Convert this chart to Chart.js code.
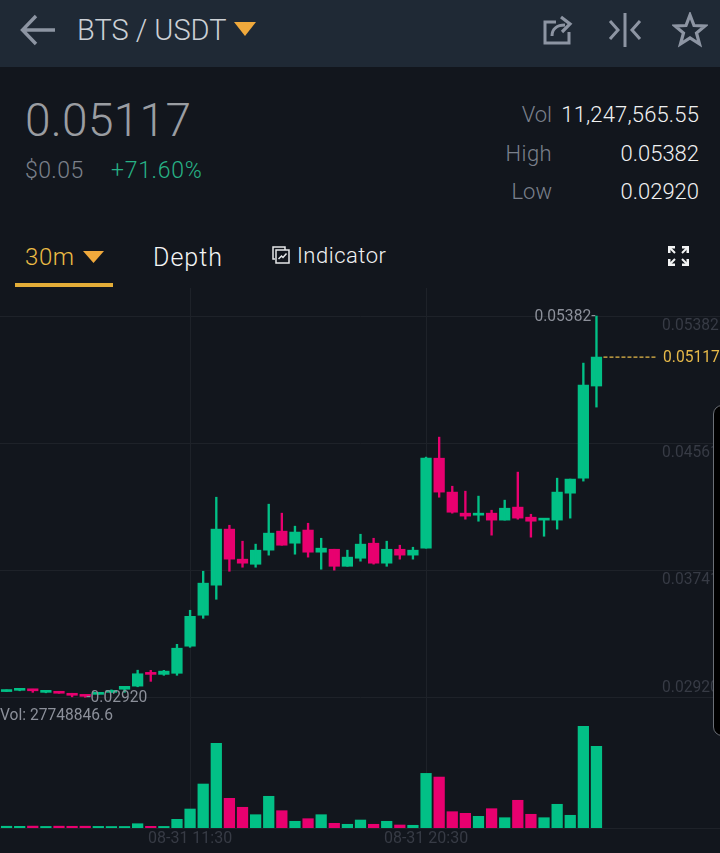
<!DOCTYPE html>
<html>
<head>
<meta charset="utf-8">
<script src="https://cdn.jsdelivr.net/npm/chart.js@4"></script>
<style>
  html, body { margin: 0; padding: 0; background: #12161d; }
  body { position: relative; width: 720px; height: 853px; overflow: hidden; font-family: Roboto, sans-serif; }
  .t { position: absolute; white-space: nowrap; line-height: 1; }
  .r { text-align: right; }
  svg { position: absolute; }
  #topbar { position: absolute; left: 0; top: 0; width: 720px; height: 67px; background: #1f2935; }
  #tabline { position: absolute; left: 15px; top: 283px; width: 98px; height: 4px; background: #e3ad38; }
  #chart1 { position: absolute; left: -1px; top: 288px; }
  #sidetab { position: absolute; left: 713px; top: 405px; width: 20px; height: 329px; background: #000; border: 1px solid #6b6f76; border-radius: 9px; }
</style>
</head>
<body>
<div id="topbar"></div>
<svg style="left:20px;top:14px" width="36" height="32" viewBox="0 0 36 32" fill="none" stroke="#8d95a3" stroke-width="3.4">
  <path d="M35 16H3M16 2L2.5 16L16 30"/>
</svg>
<div class="t" style="left:77px;top:16px;font-size:29px;font-weight:300;color:#ccd0d5">BTS / USDT</div>
<svg style="left:234px;top:22px" width="22" height="14"><path d="M0 0H22L11 14Z" fill="#f0a93c"/></svg>
<svg style="left:542px;top:14px" width="32" height="32" viewBox="0 0 32 32" fill="none" stroke="#8d95a3" stroke-width="3">
  <path d="M14 8H3V29H27V18"/><path d="M10 22C10 15 15 11 23 11"/><path d="M19 3L28 10L20 18" stroke-width="3.2"/>
</svg>
<svg style="left:607px;top:12px" width="36" height="36" viewBox="0 0 36 36" fill="none" stroke="#8d95a3" stroke-width="3">
  <path d="M18 1V35"/><path d="M3 9L11 18L3 27M33 9L25 18L33 27"/>
</svg>
<svg style="left:672px;top:12px" width="36" height="36" viewBox="0 0 36 36" fill="none" stroke="#8d95a3" stroke-width="3.2">
  <path d="M18 3L22 13.5L33 14L24.5 21L27.5 32L18 26L8.5 32L11.5 21L3 14L14 13.5Z"/>
</svg>

<div class="t" style="left:25px;top:97px;font-size:46px;font-weight:300;letter-spacing:.3px;color:#9a9da2">0.05117</div>
<div class="t" style="left:25px;top:159px;font-size:23px;font-weight:300;letter-spacing:.4px;color:#7b818b">$0.05</div>
<div class="t" style="left:111px;top:159px;font-size:23px;font-weight:300;letter-spacing:.7px;color:#27b286">+71.60%</div>

<div class="t r" style="right:168px;top:104px;font-size:22px;font-weight:300;color:#7a808c">Vol</div>
<div class="t r" style="right:168px;top:143px;font-size:22px;font-weight:300;letter-spacing:.4px;color:#7a808c">High</div>
<div class="t r" style="right:168px;top:181px;font-size:22px;font-weight:300;color:#7a808c">Low</div>
<div class="t r" style="right:21px;top:104px;font-size:22px;letter-spacing:.15px;color:#f0f1f2;font-weight:300">11,247,565.55</div>
<div class="t r" style="right:21px;top:143px;font-size:22px;color:#f0f1f2;font-weight:300">0.05382</div>
<div class="t r" style="right:21px;top:181px;font-size:22px;color:#f0f1f2;font-weight:300">0.02920</div>

<div class="t" style="left:25px;top:245px;font-size:24px;font-weight:300;letter-spacing:.6px;color:#ecbc45">30m</div>
<svg style="left:83px;top:251px" width="21" height="12"><path d="M0 0H21L10.5 12Z" fill="#f0a93c"/></svg>
<div id="tabline"></div>
<div class="t" style="left:153px;top:245px;font-size:25px;letter-spacing:1px;color:#f4f5f5;font-weight:300">Depth</div>
<svg style="left:272px;top:246px" width="18" height="18" viewBox="0 0 18 18" fill="none" stroke="#e6e7e9" stroke-width="1.5">
  <path d="M3 13H1V1H13V4"/><rect x="4" y="4" width="13" height="13"/><path d="M6.5 13L9.5 10L11 11.5L14.5 7.5"/>
</svg>
<div class="t" style="left:297px;top:245px;font-size:22px;letter-spacing:.5px;color:#f0f1f2;font-weight:300">Indicator</div>
<svg style="left:668px;top:246px" width="21" height="20" viewBox="0 0 21 20" fill="none" stroke="#f2f3f4" stroke-width="3">
  <path d="M1 7V1H7M14 1H20V7M20 13V19H14M7 19H1V13"/><path d="M2 2L7 7M19 2L14 7M19 18L14 13M2 18L7 13" stroke-width="2"/>
</svg>

<canvas id="chart1" width="722" height="565"></canvas>
<div id="sidetab"></div>

<script>
const labels = [
  "08-31 04:30", "08-31 05:00", "08-31 05:30", "08-31 06:00", "08-31 06:30", "08-31 07:00",
  "08-31 07:30", "08-31 08:00", "08-31 08:30", "08-31 09:00", "08-31 09:30", "08-31 10:00",
  "08-31 10:30", "08-31 11:00", "08-31 11:30", "08-31 12:00", "08-31 12:30", "08-31 13:00",
  "08-31 13:30", "08-31 14:00", "08-31 14:30", "08-31 15:00", "08-31 15:30", "08-31 16:00",
  "08-31 16:30", "08-31 17:00", "08-31 17:30", "08-31 18:00", "08-31 18:30", "08-31 19:00",
  "08-31 19:30", "08-31 20:00", "08-31 20:30", "08-31 21:00", "08-31 21:30", "08-31 22:00",
  "08-31 22:30", "08-31 23:00", "08-31 23:30", "09-01 00:00", "09-01 00:30", "09-01 01:00",
  "09-01 01:30", "09-01 02:00", "09-01 02:30", "09-01 03:00",
];
const opens = [
  0.02957, 0.02965, 0.02972, 0.02952, 0.02952, 0.0294, 0.02933, 0.02939, 0.02952, 0.02972,
  0.02992, 0.03081, 0.03068, 0.03075, 0.0325, 0.0345, 0.03644, 0.04006, 0.03812, 0.03779,
  0.0387, 0.03993, 0.03915, 0.04, 0.03857, 0.03876, 0.03766, 0.03818, 0.03915, 0.03786,
  0.03876, 0.03838, 0.03883, 0.04464, 0.04245, 0.04109, 0.04096, 0.04109, 0.04064, 0.04148,
  0.04083, 0.04064, 0.04064, 0.04238, 0.04335, 0.0493,
];
const highs = [
  0.02968, 0.02978, 0.02972, 0.02965, 0.02952, 0.02946, 0.02933, 0.02949, 0.02968, 0.02991,
  0.03095, 0.03094, 0.03094, 0.03262, 0.03482, 0.03734, 0.04212, 0.04031, 0.03928, 0.03909,
  0.04167, 0.04109, 0.04025, 0.04044, 0.03947, 0.03876, 0.0387, 0.03973, 0.03947, 0.03928,
  0.03902, 0.03889, 0.04471, 0.046, 0.04283, 0.04251, 0.04219, 0.04128, 0.04193, 0.04374,
  0.04102, 0.0407, 0.04335, 0.04329, 0.05078, 0.05382,
];
const lows = [
  0.02957, 0.02962, 0.02952, 0.02949, 0.02946, 0.02923, 0.0292, 0.02939, 0.02952, 0.02952,
  0.02988, 0.03023, 0.03062, 0.03062, 0.03243, 0.0343, 0.03553, 0.03734, 0.0376, 0.0376,
  0.03838, 0.03902, 0.03844, 0.03825, 0.03747, 0.03741, 0.03766, 0.03799, 0.0378, 0.03766,
  0.03812, 0.03812, 0.03883, 0.04212, 0.04109, 0.0407, 0.04057, 0.03967, 0.04064, 0.0407,
  0.03954, 0.0396, 0.04006, 0.04077, 0.04316, 0.04794,
];
const closes = [
  0.02965, 0.02975, 0.02962, 0.02962, 0.02946, 0.02933, 0.02926, 0.02949, 0.02965, 0.02991,
  0.03072, 0.03068, 0.03089, 0.03237, 0.03443, 0.03657, 0.04006, 0.03812, 0.03786, 0.0387,
  0.0398, 0.03902, 0.03987, 0.03857, 0.03883, 0.03766, 0.03825, 0.03909, 0.03786, 0.03876,
  0.03838, 0.0387, 0.04464, 0.04245, 0.04115, 0.0409, 0.04109, 0.04064, 0.04141, 0.04077,
  0.04057, 0.0407, 0.04245, 0.04329, 0.04936, 0.05117,
];
const volumes = [
  480000, 450000, 520000, 430000, 500000, 470000, 490000, 440000, 410000, 420000,
  1170000, 460000, 430000, 2370000, 5180000, 12000000, 23100000, 8100000, 5650000, 3630000,
  8650000, 4720000, 1830000, 2540000, 3630000, 1280000, 1010000, 2180000, 1010000, 1830000,
  820000, 740000, 14900000, 13900000, 4450000, 4010000, 3190000, 5270000, 2810000, 7560000,
  3740000, 2810000, 6470000, 3470000, 27748846.6, 22300000,
];
const priceTicks = [0.0292, 0.03741, 0.04561, 0.05382];
const dateTicks = ["08-31 11:30", "08-31 20:30"];

const green = "#02c086";
const pink = "#e8006f";
const gridColor = "#1e2229";
const colors = opens.map((o, i) => (closes[i] >= o ? green : pink));

// empty slots on the right of the last candle
const slots = labels.concat(Array(9).fill(""));

const marks = {
  id: "marks",
  afterDatasetsDraw(chart) {
    const c = chart.ctx;
    const x = chart.scales.x;
    const y = chart.scales.y;
    c.save();
    c.textBaseline = "middle";
    c.font = "15.6px Roboto";

    // price labels sit under the grid line, the lowest one above it
    c.fillStyle = "#373b45";
    c.textAlign = "left";
    priceTicks.forEach((p, i) => {
      c.fillText(p.toFixed(5), 663, y.getPixelForValue(p) + (i === 0 ? -9 : 10));
    });

    // highest and lowest
    const hi = Math.max(...highs);
    const lo = Math.min(...lows);
    c.fillStyle = "#8c909a";
    c.textAlign = "right";
    c.fillText(hi.toFixed(5) + "-", x.getPixelForValue(highs.indexOf(hi)) - 1, y.getPixelForValue(hi) + 1);
    c.textAlign = "left";
    c.fillText("-" + lo.toFixed(5), x.getPixelForValue(lows.indexOf(lo)) + 1, y.getPixelForValue(lo) + 1);

    // last price
    const last = closes[closes.length - 1];
    const ly = y.getPixelForValue(last);
    c.strokeStyle = "#e6b949";
    c.lineWidth = 1.3;
    c.setLineDash([4, 2]);
    c.beginPath();
    c.moveTo(x.getPixelForValue(closes.length - 1) + 7, ly);
    c.lineTo(657, ly);
    c.stroke();
    c.setLineDash([]);
    c.fillStyle = "#e6b949";
    c.fillText(last.toFixed(5), 664, ly + 1);

    c.fillStyle = "#8c909a";
    c.fillText("Vol: " + Math.max(...volumes), 1, 428);
    c.restore();
  },
};

const ctx1 = document.getElementById("chart1").getContext("2d");
const myChart1 = new Chart(ctx1, {
  type: "bar",
  data: {
    labels: slots,
    datasets: [
      {
        label: "wick",
        data: lows.map((l, i) => [l, highs[i]]),
        backgroundColor: colors,
        barThickness: 1.7,
        grouped: false,
        yAxisID: "y",
      },
      {
        label: "body",
        data: opens.map((o, i) => [o, closes[i]]),
        backgroundColor: colors,
        barThickness: 10.6,
        minBarLength: 2,
        grouped: false,
        yAxisID: "y",
      },
      {
        label: "volume",
        data: volumes,
        backgroundColor: colors,
        barThickness: 10.6,
        grouped: false,
        yAxisID: "vol",
      },
    ],
  },
  options: {
    responsive: false,
    animation: false,
    layout: { padding: { left: 1 } },
    plugins: {
      legend: { display: false },
      tooltip: { enabled: false },
    },
    scales: {
      x: {
        afterFit: (s) => { s.height = 25; },
        border: { color: gridColor },
        grid: {
          offset: false,
          drawTicks: false,
          color: (c) => (c.tick && dateTicks.includes(slots[c.tick.value]) ? gridColor : "transparent"),
        },
        ticks: {
          autoSkip: false,
          maxRotation: 0,
          padding: 1,
          color: "#373b45",
          font: { family: "Roboto", size: 16 },
          callback: (v) => (dateTicks.includes(slots[v]) ? slots[v] : ""),
        },
      },
      y: {
        position: "right",
        min: 0.02076,
        max: 0.05563,
        afterBuildTicks: (s) => { s.ticks = priceTicks.map((v) => ({ value: v })); },
        border: { display: false },
        grid: { drawTicks: false, color: gridColor },
        ticks: { display: false },
      },
      vol: {
        display: false,
        min: 0,
        max: 147340000,
      },
    },
  },
  plugins: [marks],
});
</script>
</body>
</html>
